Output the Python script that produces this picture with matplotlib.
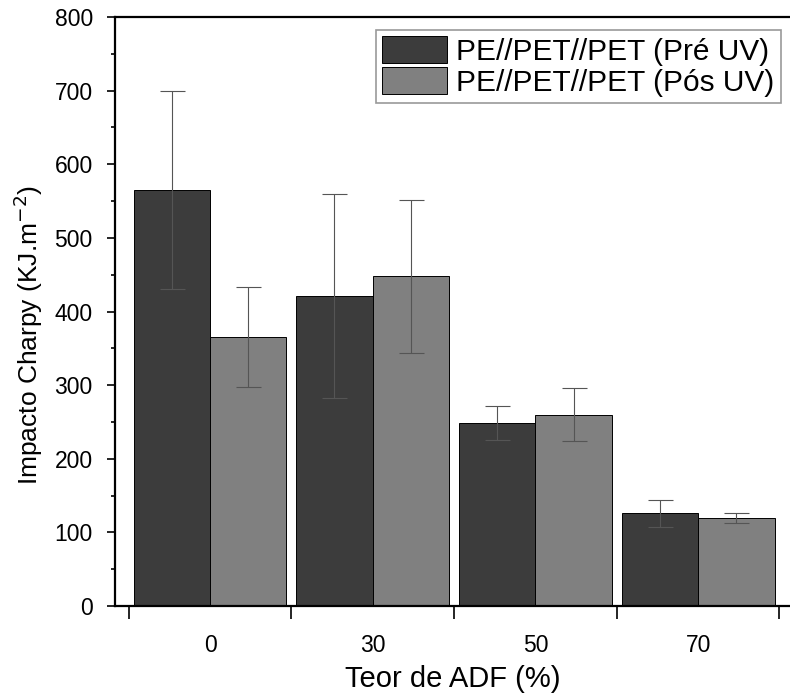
import numpy as np
import matplotlib.pyplot as plt
from matplotlib.ticker import MultipleLocator, FixedLocator, NullFormatter

plt.rcParams['font.family'] = ['Liberation Sans', 'DejaVu Sans']

# Dados de impacto Charpy
teor = ['0', '30', '50', '70']
pre_uv = [565, 421, 248, 126]
pre_uv_err = [134, 139, 23, 18]
pos_uv = [365, 448, 260, 120]
pos_uv_err = [68, 104, 36, 7]

x = np.arange(len(teor))
w = 0.47

fig = plt.figure(figsize=(7.9, 6.99), dpi=100)
ax = fig.add_axes([0.1456, 0.133, 0.8544, 0.8427])

ax.bar(x - w / 2, pre_uv, w, color='#3c3c3c', edgecolor='black', linewidth=0.7,
       label='PE//PET//PET (Pré UV)')
ax.bar(x + w / 2, pos_uv, w, color='#808080', edgecolor='black', linewidth=0.7,
       label='PE//PET//PET (Pós UV)')
ax.errorbar(x - w / 2, pre_uv, yerr=pre_uv_err, fmt='none', ecolor='#555555',
            elinewidth=0.8, capsize=9, capthick=0.8)
ax.errorbar(x + w / 2, pos_uv, yerr=pos_uv_err, fmt='none', ecolor='#555555',
            elinewidth=0.8, capsize=9, capthick=0.8)

ax.set_xlim(-0.584, 3.565)
ax.set_ylim(0, 800)

# Rótulos no centro dos grupos, marcas nas divisões
ax.set_xticks(x)
ax.set_xticklabels(teor)
ax.tick_params(axis='x', which='major', length=0, pad=20)
ax.xaxis.set_minor_locator(FixedLocator([-0.5, 0.5, 1.5, 2.5, 3.5]))
ax.xaxis.set_minor_formatter(NullFormatter())
ax.tick_params(axis='x', which='minor', length=9, width=1.2, direction='out')

ax.yaxis.set_major_locator(MultipleLocator(100))
ax.yaxis.set_minor_locator(MultipleLocator(50))
ax.tick_params(axis='y', which='major', length=6, width=1.2, direction='out', pad=10)
ax.tick_params(axis='y', which='minor', length=3, width=1.2, direction='out')
ax.tick_params(labelsize=16.5)

for s in ['left', 'bottom', 'top']:
    ax.spines[s].set_linewidth(1.6)
ax.spines['right'].set_visible(False)

ax.set_xlabel('Teor de ADF (%)', fontsize=21, labelpad=6)
ax.set_ylabel('Impacto Charpy (KJ.m$^{\\mathsf{-2}}$)', fontsize=19)
ax.yaxis.set_label_coords(-0.104, 0.46)

leg = ax.legend(loc='upper right', bbox_to_anchor=(0.986, 0.978), fontsize=21.5,
                handlelength=2.2, handleheight=1.0, handletextpad=0.3,
                labelspacing=0.05, borderpad=0.2, borderaxespad=0,
                fancybox=False, edgecolor='#999999', framealpha=1)
leg.get_frame().set_linewidth(1.2)

plt.savefig('out.png', dpi=100)
